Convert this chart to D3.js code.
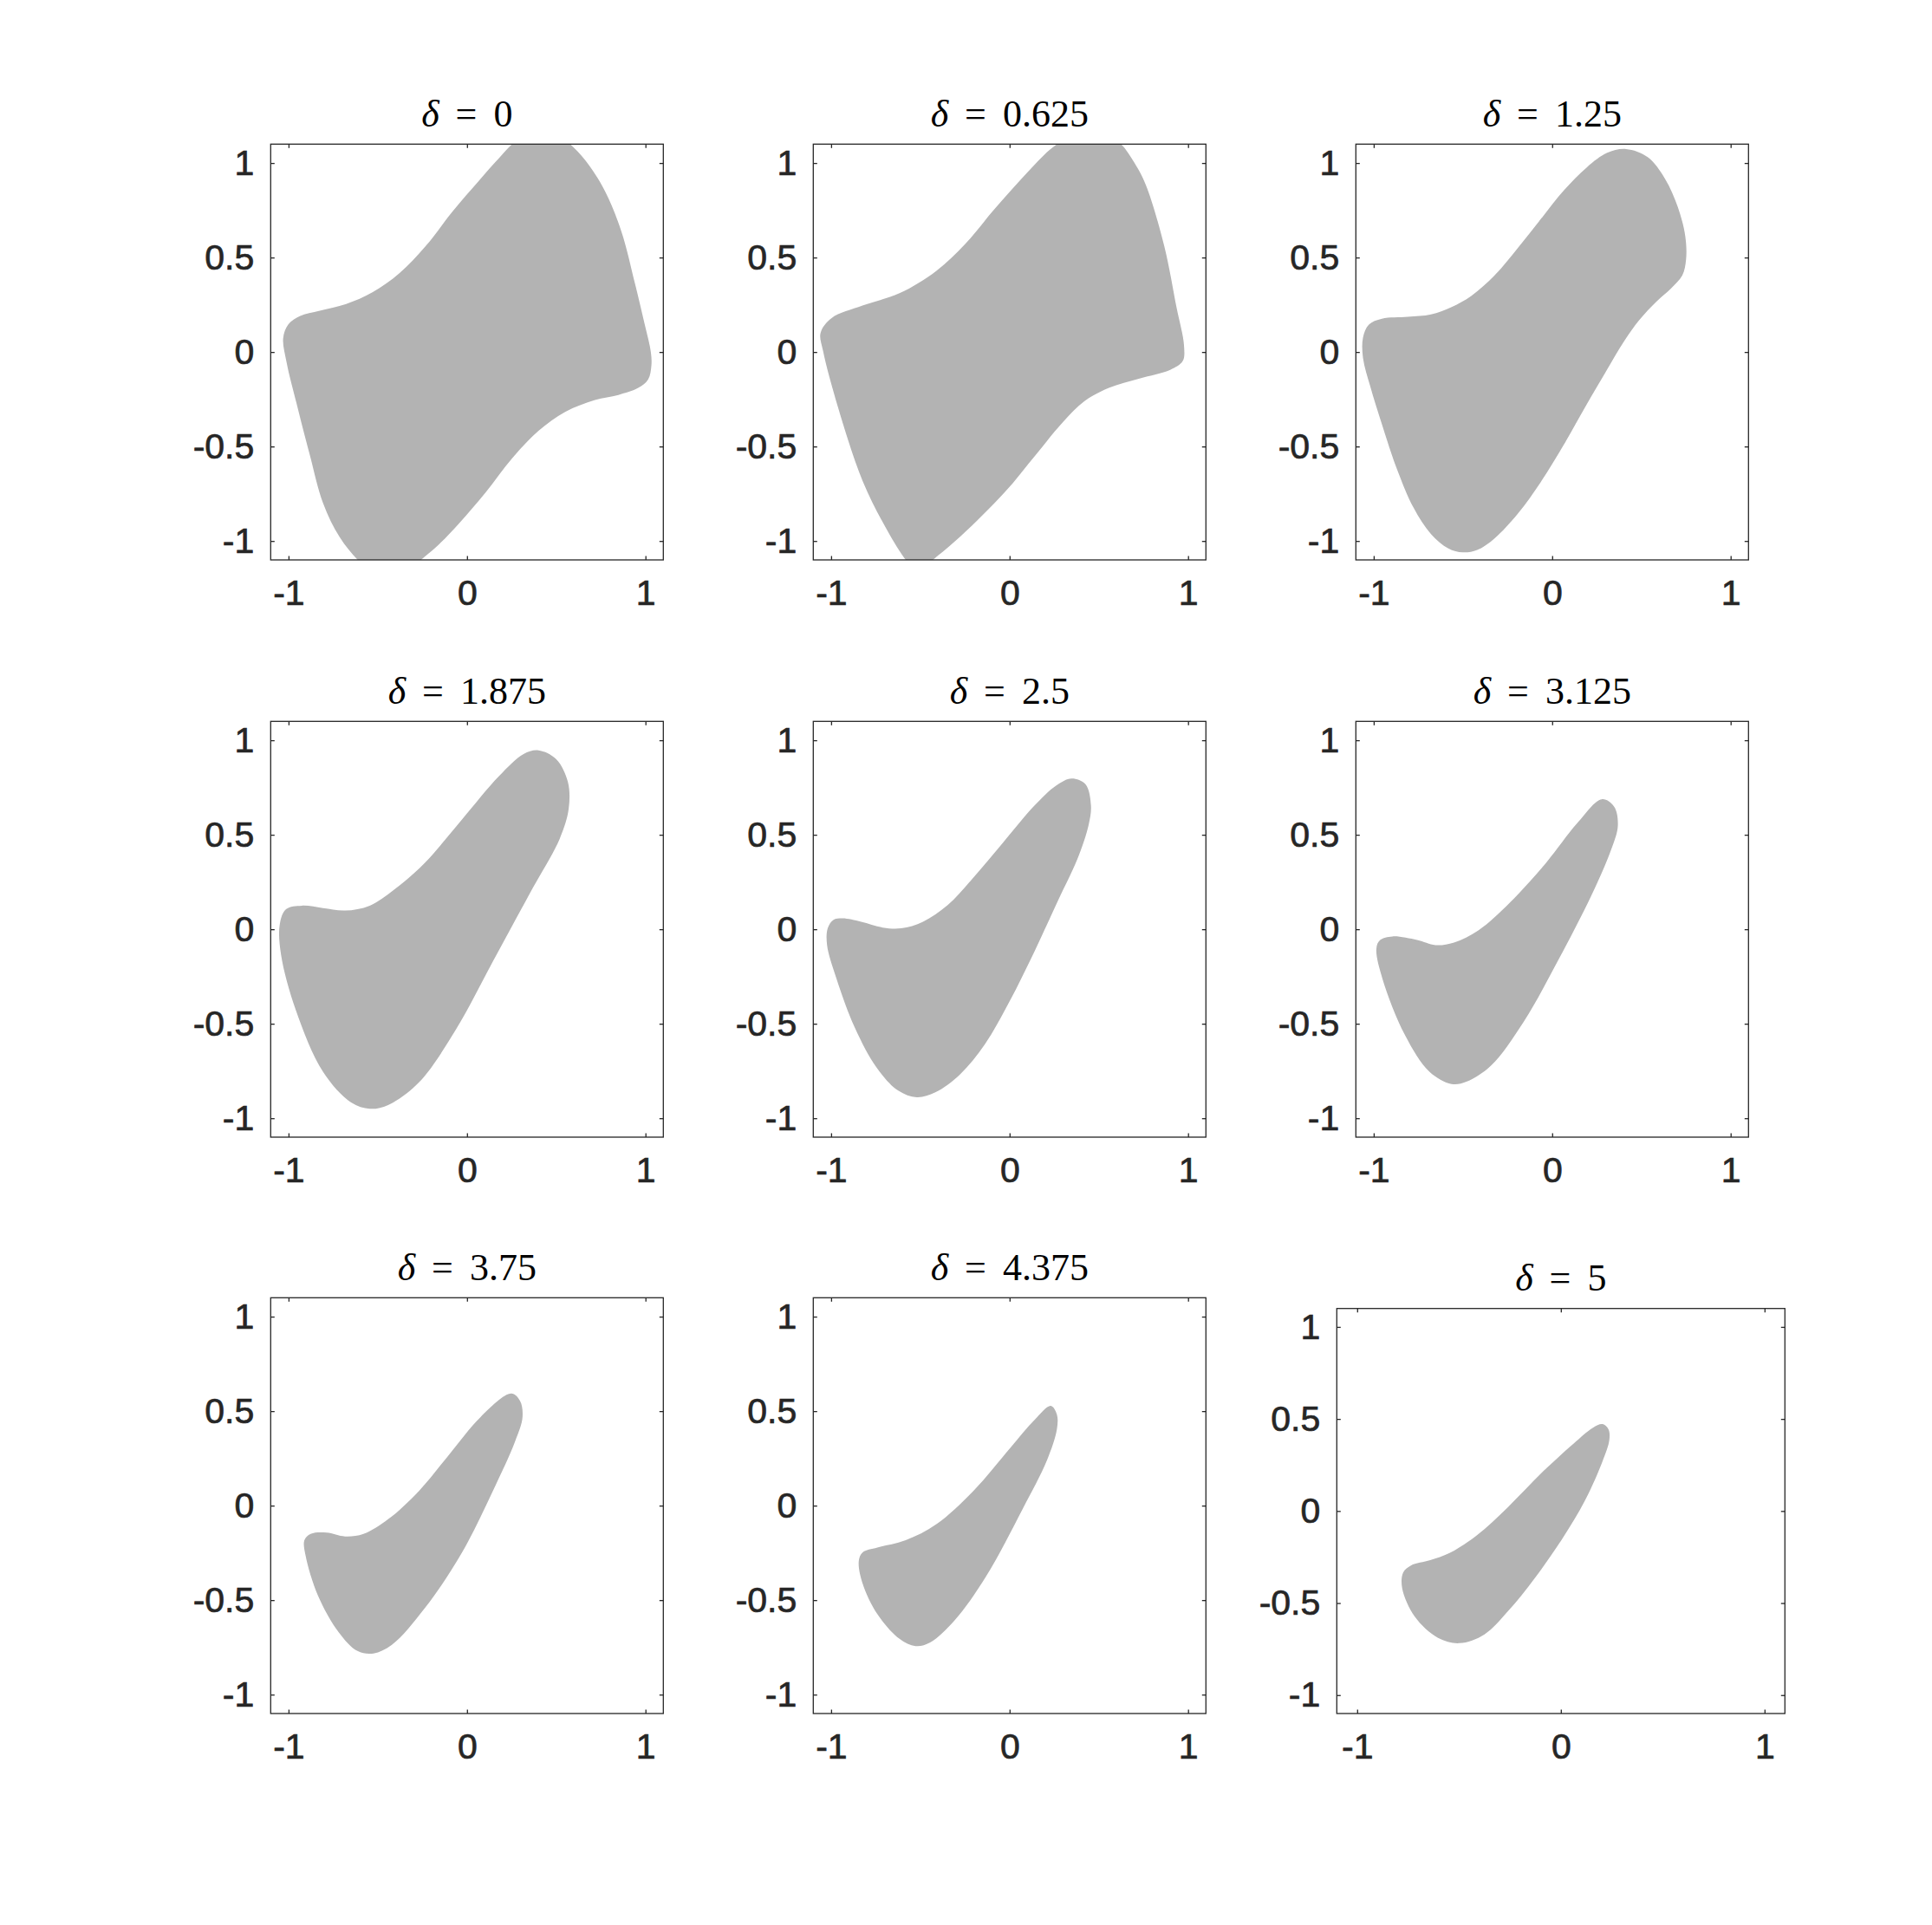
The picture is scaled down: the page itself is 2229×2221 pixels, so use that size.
<!DOCTYPE html>
<html>
<head>
<meta charset="utf-8">
<script src="https://cdn.jsdelivr.net/npm/d3@7"></script>
<style>
  body { margin: 0; background: #fff; }
</style>
</head>
<body>
<script>
// delta value of each panel, and the title text for it
var deltas = [0, 0.625, 1.25, 1.875, 2.5, 3.125, 3.75, 4.375, 5];
var deltaLabels = ["0", "0.625", "1.25", "1.875", "2.5", "3.125", "3.75", "4.375", "5"];

var xTicks = [-1, 0, 1];
var yTicks = [-1, -0.5, 0, 0.5, 1];
var axisDomain = [-1.1, 1.1];

// boundary of each region, [x, y]
var shape0 = [[0.253,1.10],[0.33,1.16],[0.50,1.16],[0.578,1.10],[0.662,1.015],[0.773,0.852],[0.866,0.635],[0.941,0.363],[0.996,0.145],[1.030,0.0],[1.033,-0.073],[1.015,-0.145],[0.959,-0.190],[0.848,-0.227],[0.717,-0.254],[0.550,-0.317],[0.401,-0.417],[0.253,-0.562],[0.104,-0.743],[-0.045,-0.907],[-0.175,-1.034],[-0.258,-1.10],[-0.33,-1.16],[-0.53,-1.16],[-0.612,-1.10],[-0.714,-0.979],[-0.807,-0.798],[-0.881,-0.544],[-0.955,-0.272],[-1.011,-0.054],[-1.030,0.073],[-1.002,0.145],[-0.937,0.190],[-0.825,0.218],[-0.677,0.254],[-0.528,0.317],[-0.379,0.417],[-0.230,0.562],[-0.082,0.743],[0.067,0.907],[0.178,1.024]];
var shape1 = [[0.266,1.10],[0.35,1.15],[0.55,1.15],[0.625,1.10],[0.70,1.0],[0.763,0.885],[0.867,0.559],[0.936,0.233],[0.977,0.037],[0.97,-0.048],[0.9,-0.094],[0.728,-0.14],[0.556,-0.19],[0.42,-0.26],[0.30,-0.37],[0.15,-0.54],[-0.03,-0.745],[-0.272,-0.973],[-0.43,-1.10],[-0.47,-1.13],[-0.55,-1.13],[-0.582,-1.10],[-0.686,-0.943],[-0.824,-0.681],[-0.962,-0.29],[-1.045,0.005],[-1.059,0.102],[-0.997,0.18],[-0.824,0.246],[-0.617,0.311],[-0.41,0.43],[-0.25,0.57],[-0.09,0.75],[0.07,0.92],[0.19,1.04]];
var shape2 = [[0.414,1.074],[0.535,1.031],[0.632,0.917],[0.705,0.764],[0.746,0.611],[0.750,0.489],[0.729,0.405],[0.665,0.336],[0.584,0.267],[0.487,0.168],[0.406,0.061],[0.308,-0.092],[0.195,-0.275],[0.066,-0.489],[-0.064,-0.688],[-0.193,-0.856],[-0.323,-0.986],[-0.420,-1.047],[-0.501,-1.060],[-0.582,-1.039],[-0.679,-0.963],[-0.776,-0.825],[-0.873,-0.611],[-0.954,-0.382],[-1.019,-0.183],[-1.060,-0.031],[-1.060,0.076],[-1.027,0.145],[-0.954,0.176],[-0.809,0.186],[-0.679,0.199],[-0.566,0.237],[-0.452,0.298],[-0.323,0.405],[-0.193,0.550],[-0.064,0.703],[0.066,0.856],[0.195,0.978],[0.308,1.054]];
var shape3 = [[0.40,0.947],[0.50,0.90],[0.565,0.78],[0.57,0.64],[0.52,0.48],[0.352,0.19],[0.145,-0.17],[-0.062,-0.53],[-0.269,-0.81],[-0.442,-0.93],[-0.545,-0.95],[-0.649,-0.917],[-0.807,-0.754],[-0.959,-0.428],[-1.042,-0.135],[-1.049,0.027],[-1.014,0.106],[-0.925,0.125],[-0.807,0.112],[-0.683,0.099],[-0.545,0.125],[-0.407,0.21],[-0.235,0.353],[-0.028,0.581],[0.179,0.81],[0.317,0.927]];
var shape4 = [[0.347,0.798],[0.425,0.768],[0.456,0.654],[0.442,0.549],[0.381,0.374],[0.277,0.163],[0.139,-0.118],[0.0,-0.381],[-0.139,-0.609],[-0.277,-0.767],[-0.416,-0.863],[-0.52,-0.889],[-0.624,-0.854],[-0.745,-0.732],[-0.867,-0.521],[-0.971,-0.258],[-1.023,-0.082],[-1.019,0.005],[-0.988,0.049],[-0.936,0.058],[-0.832,0.040],[-0.711,0.009],[-0.607,0.005],[-0.485,0.040],[-0.347,0.128],[-0.208,0.268],[-0.035,0.461],[0.139,0.654],[0.26,0.76]];
var shape5 = [[0.278,0.688],[0.347,0.649],[0.368,0.549],[0.33,0.42],[0.22,0.18],[0.03,-0.17],[-0.16,-0.49],[-0.343,-0.722],[-0.481,-0.807],[-0.564,-0.819],[-0.688,-0.754],[-0.826,-0.558],[-0.95,-0.265],[-0.985,-0.102],[-0.964,-0.057],[-0.895,-0.038],[-0.757,-0.057],[-0.654,-0.084],[-0.55,-0.07],[-0.412,-0.005],[-0.24,0.138],[-0.033,0.353],[0.14,0.561]];
var shape6 = [[0.248,0.593],[0.297,0.554],[0.311,0.469],[0.269,0.339],[0.145,0.078],[-0.028,-0.248],[-0.235,-0.541],[-0.421,-0.737],[-0.524,-0.782],[-0.614,-0.769],[-0.718,-0.671],[-0.835,-0.476],[-0.904,-0.267],[-0.911,-0.183],[-0.876,-0.150],[-0.787,-0.143],[-0.683,-0.163],[-0.580,-0.150],[-0.442,-0.072],[-0.269,0.078],[-0.097,0.274],[0.076,0.469]];
var shape7 = [[0.231,0.528],[0.265,0.482],[0.265,0.404],[0.21,0.241],[0.072,-0.02],[-0.134,-0.378],[-0.307,-0.606],[-0.445,-0.724],[-0.527,-0.743],[-0.617,-0.704],[-0.741,-0.574],[-0.824,-0.411],[-0.845,-0.293],[-0.824,-0.248],[-0.741,-0.222],[-0.582,-0.183],[-0.41,-0.098],[-0.203,0.078],[0.004,0.306],[0.142,0.456]];
var shape8 = [[0.205,0.472],[0.234,0.443],[0.238,0.386],[0.205,0.271],[0.12,0.06],[0.006,-0.152],[-0.127,-0.363],[-0.26,-0.545],[-0.375,-0.67],[-0.498,-0.718],[-0.603,-0.689],[-0.717,-0.574],[-0.779,-0.42],[-0.774,-0.334],[-0.736,-0.296],[-0.641,-0.267],[-0.546,-0.228],[-0.413,-0.132],[-0.26,0.021],[-0.089,0.213],[0.063,0.367],[0.158,0.453]];
var shapes = [shape0, shape1, shape2, shape3, shape4, shape5, shape6, shape7, shape8];

var svgWidth = 2229,
    svgHeight = 2221;

var svg = d3.select('body').append('svg')
    .attr('width', svgWidth)
    .attr('height', svgHeight);

svg.append('rect')
    .attr('width', svgWidth)
    .attr('height', svgHeight)
    .attr('fill', '#fff');

// panel layout (pixels)
var colLeft = [312.3, 938.3, 1564.3],
    rowTop = [166.3, 832.3, 1497.3],
    boxW = 453,
    boxH = 479.7;

var ink = '#262626';
var fmt = function(d) { return String(d); };

deltas.forEach(function(delta, i) {
    var r = Math.floor(i / 3), c = i % 3;
    var box = {x: colLeft[c], y: rowTop[r], w: boxW, h: boxH};
    // last axes came out a different size
    if (i === 8) box = {x: 1542.3, y: 1509.7, w: 517, h: 467.3};

    var x = d3.scaleLinear().domain(axisDomain).range([0, box.w]);
    var y = d3.scaleLinear().domain(axisDomain).range([box.h, 0]);

    var g = svg.append('g').attr('transform', 'translate(' + box.x + ',' + box.y + ')');

    g.append('clipPath').attr('id', 'clip' + i)
      .append('rect').attr('width', box.w).attr('height', box.h);

    var line = d3.line()
        .x(function(d) { return x(d[0]); })
        .y(function(d) { return y(d[1]); })
        .curve(d3.curveCatmullRomClosed.alpha(0.5));

    g.append('path')
        .datum(shapes[i])
        .attr('d', line)
        .attr('fill', '#b3b3b3')
        .attr('stroke', 'none')
        .attr('clip-path', 'url(#clip' + i + ')');

    var tick = -4.5;
    var axes = [
        {ax: d3.axisBottom(x).tickValues(xTicks).tickPadding(23).tickFormat(fmt), t: 'translate(0,' + box.h + ')'},
        {ax: d3.axisLeft(y).tickValues(yTicks).tickPadding(19).tickFormat(fmt), t: null},
        {ax: d3.axisTop(x).tickValues(xTicks).tickFormat(''), t: null},
        {ax: d3.axisRight(y).tickValues(yTicks).tickFormat(''), t: 'translate(' + box.w + ',0)'}
    ];
    axes.forEach(function(a) {
        var ag = g.append('g');
        if (a.t) ag.attr('transform', a.t);
        ag.call(a.ax.tickSize(tick).tickSizeOuter(0));
        ag.select('.domain').remove();
        ag.selectAll('line').attr('stroke', ink).attr('stroke-width', 1.3);
        ag.selectAll('text')
            .attr('fill', ink)
            .attr('stroke', ink)
            .attr('stroke-width', 0.7)
            .style('font-family', '"Liberation Sans", Arial, Helvetica, sans-serif')
            .style('font-size', '41px');
    });

    g.append('rect')
        .attr('width', box.w)
        .attr('height', box.h)
        .attr('fill', 'none')
        .attr('stroke', ink)
        .attr('stroke-width', 1.3);

    var title = g.append('text')
        .attr('x', box.w / 2)
        .attr('y', -20.3)
        .attr('text-anchor', 'middle')
        .style('font-family', '"Liberation Serif", "Times New Roman", serif')
        .style('font-size', '44px')
        .attr('fill', '#000');
    title.append('tspan').style('font-style', 'italic').text('\u03b4');
    title.append('tspan').attr('dx', 19).text('=');
    title.append('tspan').attr('dx', 19).text(deltaLabels[i]);
});
</script>
</body>
</html>
